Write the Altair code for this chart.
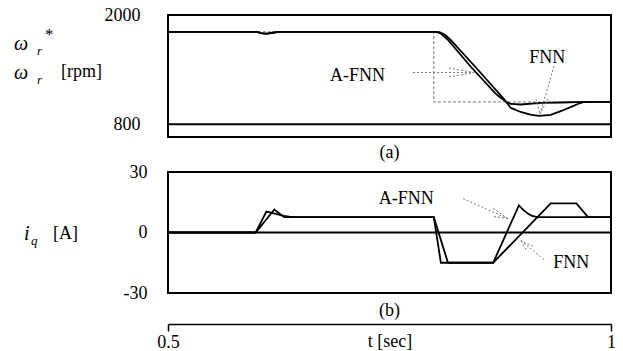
import altair as alt
import pandas as pd

FONT = "'Liberation Serif', 'Times New Roman', 'DejaVu Serif', serif"

# ---------------- data ----------------
# (a) rotor speed [rpm] vs time [sec]
afnn_w_t = [0.50, 0.600, 0.605, 0.611, 0.618, 0.625, 0.800, 0.806, 0.810, 0.816, 0.842,
            0.870, 0.876, 0.882, 0.887, 0.898, 0.921, 0.944, 0.970, 1.0]
afnn_w = [1815, 1815, 1800, 1795, 1805, 1815, 1815, 1808, 1780, 1726, 1429,
          1133, 1089, 1045, 1023, 1017, 1034, 1039, 1045, 1045]
fnn_w_t = [0.50, 0.600, 0.605, 0.611, 0.618, 0.625, 0.800, 0.807, 0.813, 0.819, 0.847,
           0.874, 0.879, 0.887, 0.898, 0.910, 0.919, 0.932, 0.944, 0.955, 0.964, 0.970, 1.0]
fnn_w = [1815, 1815, 1800, 1793, 1805, 1815, 1815, 1808, 1780, 1726, 1429,
         1133, 1078, 979, 935, 902, 891, 902, 946, 990, 1028, 1045, 1045]
cmd_w_t = [0.5, 0.8, 0.8, 1.0]
cmd_w = [1815, 1815, 1045, 1045]
base_w = [800]

# (b) q-axis current [A] vs time [sec]
afnn_i_t = [0.5, 0.599, 0.611, 0.631, 0.640, 0.800, 0.808, 0.867, 0.896, 0.901, 0.906,
            0.911, 0.917, 1.0]
afnn_i = [0, 0, 10.4, 8.2, 7.6, 7.6, -15, -15, 13.4, 11.2, 9.4, 8.2, 7.6, 7.6]
fnn_i_t = [0.5, 0.599, 0.620, 0.631, 0.800, 0.816, 0.867, 0.932, 0.961, 0.974, 1.0]
fnn_i = [0, 0, 11.4, 7.6, 7.6, -15, -15, 14.4, 14.4, 7.6, 7.6]
base_i = [0]

# curve labels
lab_a_text = ["A-FNN", "FNN"]
lab_a_t = [0.714, 0.928]
lab_a_v = [1330, 1528]
lab_b_text = ["A-FNN", "FNN"]
lab_b_t = [0.769, 0.955]
lab_b_v = [16.8, -15.3]

# annotation arrows (segments: t1, v1 -> t2, v2)
arr_a_t1 = [0.7765, 0.8172, 0.8172, 0.9357, 0.9153, 0.9289]
arr_a_v1 = [1368, 1418, 1319, 1440, 1078, 1078]
arr_a_t2 = [0.8454, 0.8454, 0.8454, 0.9199, 0.9199, 0.9199]
arr_a_v2 = [1368, 1368, 1368, 913, 913, 913]
arr_b_t1 = [0.8330, 0.8668, 0.8679, 0.9244, 0.9041, 0.9120]
arr_b_v1 = [16.8, 11.9, 7.9, -13.4, -8.4, -6.9]
arr_b_t2 = [0.8837, 0.8837, 0.8837, 0.8984, 0.8984, 0.8984]
arr_b_v2 = [6.9, 6.9, 6.9, -4.0, -4.0, -4.0]

x_ticks = [0.5, 1.0]
ya_ticks = [2000, 800]
yb_ticks = [30, 0, -30]

# ---------------- helpers ----------------
def series(name, t, v):
    return pd.DataFrame({"t": t, "v": v, "s": name, "i": list(range(len(t)))})

x_scale = alt.Scale(domain=[0.5, 1.0], nice=False, zero=False)
ya_scale = alt.Scale(domain=[660, 2000], nice=False, zero=False)
yb_scale = alt.Scale(domain=[-30, 30], nice=False, zero=False)

PLAIN = "'' + datum.value"

axis_ya = alt.Axis(values=ya_ticks, ticks=False, tickSize=0, domain=False, grid=False,
                   labelExpr=PLAIN,
                   labelFont=FONT, labelFontSize=18, labelColor="black",
                   labelPadding=28, title="")
axis_yb = alt.Axis(values=yb_ticks, ticks=False, tickSize=0, domain=False, grid=False,
                   labelExpr=PLAIN,
                   labelFont=FONT, labelFontSize=18, labelColor="black",
                   labelPadding=21, title="")
axis_xb = alt.Axis(values=x_ticks, labelExpr=PLAIN, grid=False, offset=31,
                   domainColor="black", domainWidth=1.5,
                   tickColor="black", tickWidth=1.5, tickSize=7,
                   labelFont=FONT, labelFontSize=18, labelColor="black",
                   labelPadding=2, labelFlush=False,
                   title="t [sec]", titleFont=FONT, titleFontSize=18,
                   titleFontWeight="normal", titleColor="black",
                   titleY=17, titleBaseline="middle")

def XA(f):
    return alt.X(f, scale=x_scale, axis=None, title="")

def XB(f):
    return alt.X(f, scale=x_scale, axis=axis_xb)

def YA(f):
    return alt.Y(f, scale=ya_scale, axis=axis_ya)

def YB(f):
    return alt.Y(f, scale=yb_scale, axis=axis_yb)

one = pd.DataFrame({"k": [0]})

def ptext(txt, x, y, size=18, style="normal", align="left"):
    return alt.Chart(one).mark_text(
        text=txt, font=FONT, fontSize=size, fontStyle=style, color="black",
        align=align, baseline="middle"
    ).encode(x=alt.value(x), y=alt.value(y))

W, HA, HB = 443, 122, 121

# ---------------- panel (a) ----------------
wa = pd.concat([series("A-FNN", afnn_w_t, afnn_w), series("FNN", fnn_w_t, fnn_w)])
cmd = series("cmd", cmd_w_t, cmd_w)

a_base = alt.Chart(pd.DataFrame({"v": base_w})).mark_rule(
    color="black", strokeWidth=2).encode(y=YA("v:Q"))
a_cmd = alt.Chart(cmd).mark_line(color="#777", strokeWidth=1, strokeDash=[3, 2]).encode(
    x=XA("t:Q"), y=YA("v:Q"), order="i:Q")
a_lines = alt.Chart(wa).mark_line(color="black", strokeWidth=1.8).encode(
    x=XA("t:Q"), y=YA("v:Q"), detail="s:N", order="i:Q")
a_arr = alt.Chart(pd.DataFrame({"t1": arr_a_t1, "v1": arr_a_v1, "t2": arr_a_t2, "v2": arr_a_v2})
                  ).mark_rule(color="#777", strokeWidth=1, strokeDash=[2, 2]).encode(
    x=XA("t1:Q"), y=YA("v1:Q"), x2="t2:Q", y2="v2:Q")
a_lab = alt.Chart(pd.DataFrame({"t": lab_a_t, "v": lab_a_v, "txt": lab_a_text})).mark_text(
    font=FONT, fontSize=18, color="black").encode(x=XA("t:Q"), y=YA("v:Q"), text="txt:N")

panel_a = alt.layer(
    a_base, a_cmd, a_lines, a_arr, a_lab,
    ptext("ω", -154, 29, 20, "italic"),
    ptext("r", -131, 36, 13, "italic"),
    ptext("*", -123, 20, 17),
    ptext("ω", -154, 58, 20, "italic"),
    ptext("r", -131, 65, 13, "italic"),
    ptext("[rpm]", -107, 57, 18),
    ptext("(a)", W / 2, 138, 18, align="center"),
).properties(width=W, height=HA)

# ---------------- panel (b) ----------------
ib = pd.concat([series("A-FNN", afnn_i_t, afnn_i), series("FNN", fnn_i_t, fnn_i)])

b_base = alt.Chart(pd.DataFrame({"v": base_i})).mark_rule(
    color="black", strokeWidth=2).encode(y=YB("v:Q"))
b_lines = alt.Chart(ib).mark_line(color="black", strokeWidth=1.8).encode(
    x=XB("t:Q"), y=YB("v:Q"), detail="s:N", order="i:Q")
b_arr = alt.Chart(pd.DataFrame({"t1": arr_b_t1, "v1": arr_b_v1, "t2": arr_b_t2, "v2": arr_b_v2})
                  ).mark_rule(color="#777", strokeWidth=1, strokeDash=[2, 2]).encode(
    x=XB("t1:Q"), y=YB("v1:Q"), x2="t2:Q", y2="v2:Q")
b_lab = alt.Chart(pd.DataFrame({"t": lab_b_t, "v": lab_b_v, "txt": lab_b_text})).mark_text(
    font=FONT, fontSize=18, color="black").encode(x=XB("t:Q"), y=YB("v:Q"), text="txt:N")

panel_b = alt.layer(
    b_base, b_lines, b_arr, b_lab,
    ptext("i", -144, 62, 20, "italic"),
    ptext("q", -137, 69, 13, "italic"),
    ptext("[A]", -115, 62, 18),
    ptext("(b)", W / 2, 139, 18, align="center"),
).properties(width=W, height=HB)

chart = alt.vconcat(panel_a, panel_b, spacing=35, bounds="flush").configure_view(
    stroke="black", strokeWidth=2
).properties(
    padding={"left": 13, "top": 5, "right": 5, "bottom": 5},
    background="white",
)

chart.save("out.html", embed_options={"renderer": "svg", "actions": False})
